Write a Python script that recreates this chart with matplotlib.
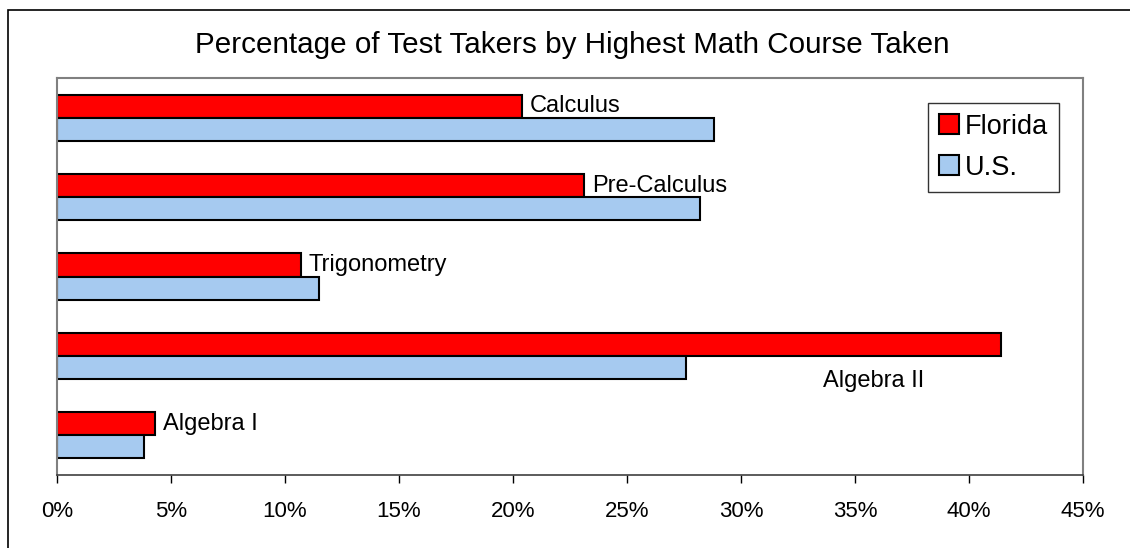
import matplotlib
matplotlib.use("Agg")
import matplotlib.pyplot as plt
from matplotlib.patches import Rectangle
from matplotlib.ticker import FuncFormatter

plt.rcParams['font.family'] = ['Liberation Sans', 'DejaVu Sans']

courses = ["Algebra I", "Algebra II", "Trigonometry", "Pre-Calculus", "Calculus"]
florida = [4.3, 41.4, 10.7, 23.1, 20.4]
us = [3.8, 27.6, 11.5, 28.2, 28.8]
xticks = [0, 5, 10, 15, 20, 25, 30, 35, 40, 45]

W, H = 1130, 548
fig = plt.figure(figsize=(W / 100, H / 100), dpi=100)
ax = fig.add_axes([57 / W, (H - 475) / H, (1083 - 57) / W, (475 - 78) / H])

# outer chart border (only top/left visible in the original)
fig.patches.append(Rectangle((8 / W, -0.1), 1.2, (H - 10) / H + 0.1,
                             transform=fig.transFigure, fill=False,
                             edgecolor='black', lw=1.2))

bh = 0.29
ypos = list(range(len(courses)))
ax.barh([y + bh / 2 for y in ypos], florida, height=bh, color='#ff0000',
        edgecolor='black', lw=1.5, label='Florida')
ax.barh([y - bh / 2 for y in ypos], us, height=bh, color='#a6caf0',
        edgecolor='black', lw=1.5, label='U.S.')

for y, name, v in zip(ypos, courses, florida):
    if name == "Algebra II":
        ax.text(33.6, y - 0.31, name, fontsize=17, va='center', ha='left')
    else:
        ax.text(v + 0.35, y + bh / 2, name, fontsize=17, va='center', ha='left')

ax.set_xlim(0, 45)
ax.set_ylim(-0.5, len(courses) - 0.5)
ax.set_xticks(xticks)
ax.xaxis.set_major_formatter(FuncFormatter(lambda v, p: f"{v:.0f}%"))
ax.set_yticks([])
ax.tick_params(axis='x', direction='out', length=6, width=1, labelsize=16, pad=13)
for s in ['top', 'right', 'left']:
    ax.spines[s].set_color('#808080')
    ax.spines[s].set_linewidth(1.5)
ax.spines['bottom'].set_color('#404040')
ax.spines['bottom'].set_linewidth(1.2)

fig.text(572 / W, (H - 45) / H, "Percentage of Test Takers by Highest Math Course Taken",
         ha='center', va='center', fontsize=21.3)

leg = ax.legend(loc='upper left', bbox_to_anchor=((928 - 57) / (1083 - 57), (475 - 103) / (475 - 78)),
                fontsize=19.5, frameon=True, fancybox=False, edgecolor='black',
                handlelength=0.75, handleheight=0.75, handletextpad=0.2,
                borderpad=0.4, borderaxespad=0, labelspacing=0.55)
leg.get_frame().set_linewidth(1.0)

fig.savefig("out.png", dpi=100)
